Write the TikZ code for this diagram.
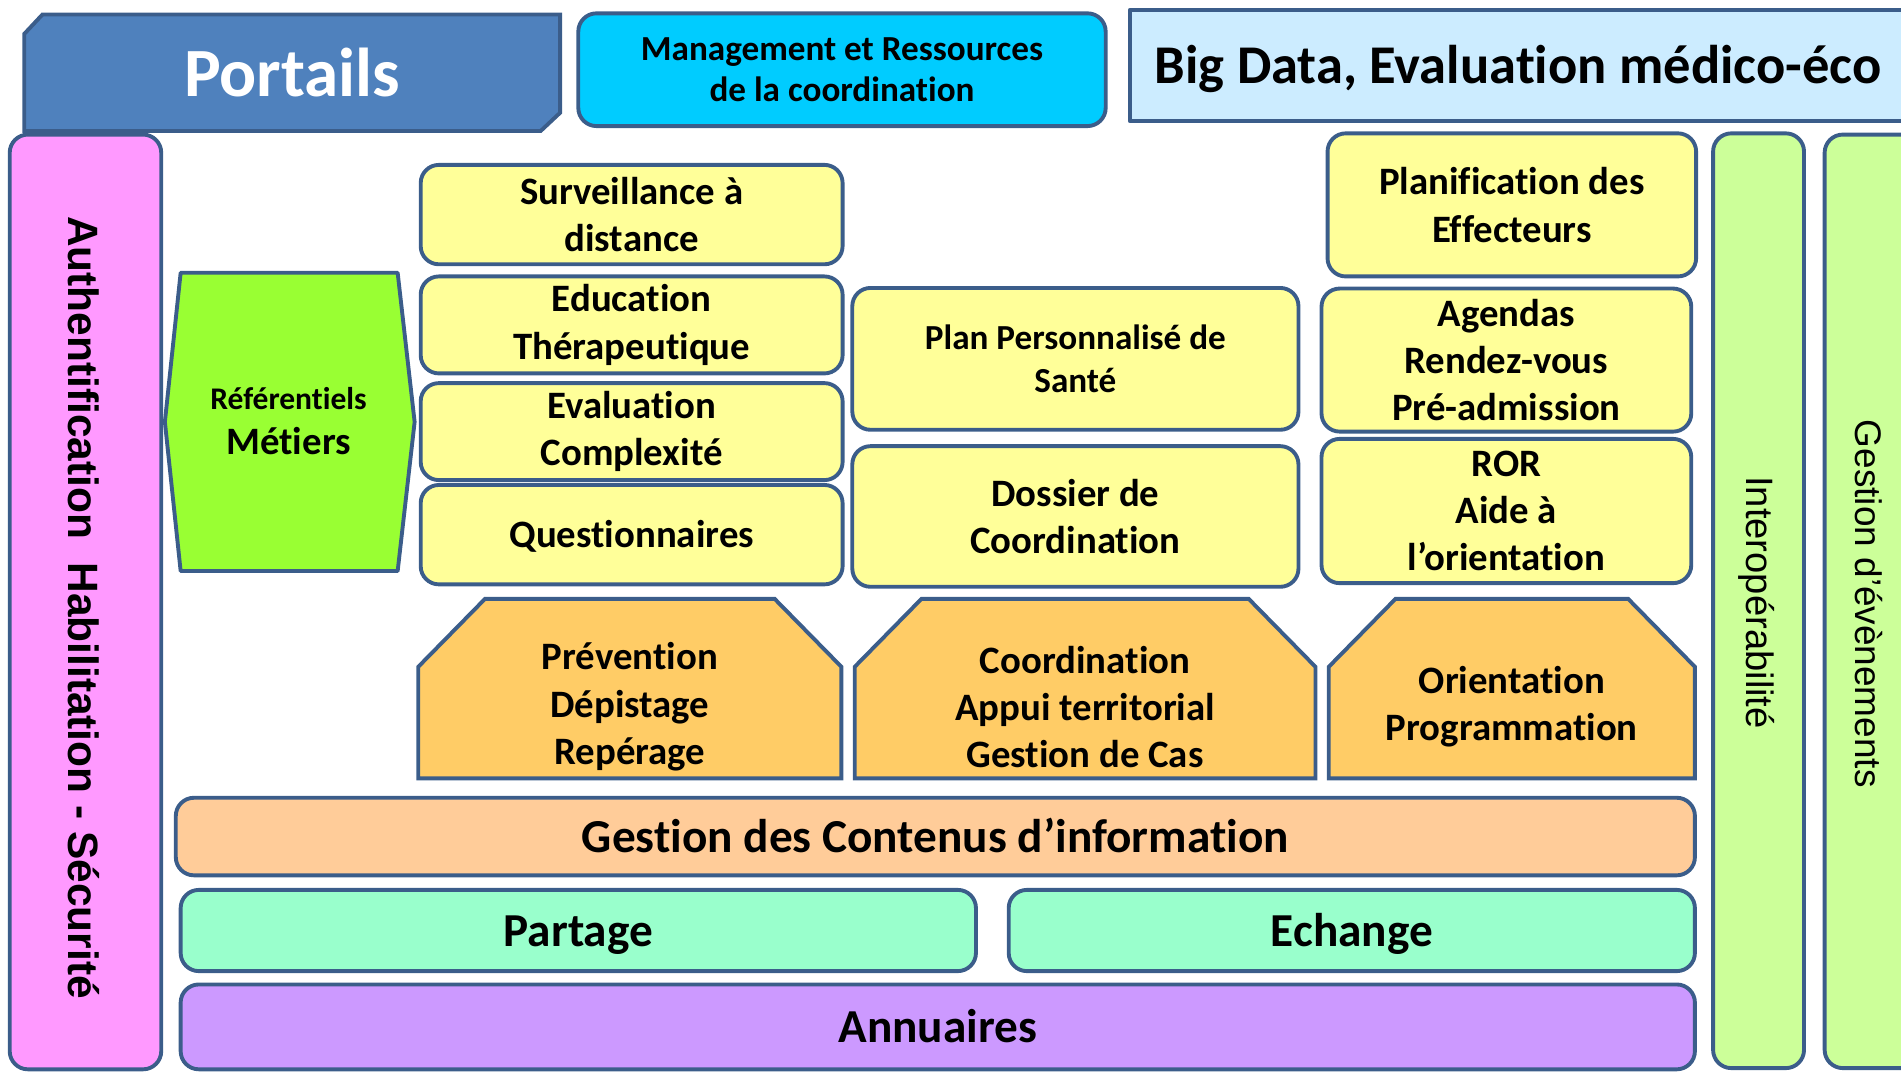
\documentclass[tikz,border=0pt]{standalone}
\usepackage{fontspec}
\setmainfont{Carlito}[Ligatures=NoCommon]
\newfontfamily\arial{Liberation Sans}
\definecolor{bordure}{HTML}{3B5D8A}
\definecolor{portail}{HTML}{4F81BD}
\definecolor{turquoise}{HTML}{00CCFF}
\definecolor{ciel}{HTML}{CCECFF}
\definecolor{rose}{HTML}{FF99FF}
\definecolor{vertvif}{HTML}{99FF33}
\definecolor{jaune}{HTML}{FFFF99}
\definecolor{orangeclair}{HTML}{FFCC66}
\definecolor{peche}{HTML}{FFCC99}
\definecolor{menthe}{HTML}{99FFCC}
\definecolor{lavande}{HTML}{CC99FF}
\definecolor{vertpale}{HTML}{CCFF99}
\tikzset{
  cadre/.style={draw=bordure, line width=3.2pt},
  bloc/.style={cadre, rounded corners=15pt, inner sep=0pt, align=center, font=\fontsize{32}{39}\selectfont\bfseries},
  taille/.style 2 args={minimum width=#1, minimum height=#2},
  gros/.style={font=\fontsize{39}{42}\selectfont\bfseries, text height=30pt, text depth=4pt},
  vertical/.style={rotate=-90, font=\fontsize{31.5}{34}\selectfont\arial}
}
\begin{document}
\begin{tikzpicture}[x=1pt, y=-1pt, line join=round, line cap=round]
  \clip (0,0) rectangle (1568,884);
  % bandeau du haut
  \filldraw[cadre, line join=miter, fill=portail] (35,12) -- (462,12) -- (462,93) -- (446,108) -- (20,108) -- (20,28) -- cycle;
  \node[font=\fontsize{57}{60}\selectfont\bfseries, text=white] (portails) at (241,60) {Portails};
  \node[bloc, fill=turquoise, taille={435}{93}, font=\fontsize{29}{34.5}\selectfont\bfseries] (management) at (694.5,57.5) {Management et Ressources\\de la coordination};
  \node[bloc, sharp corners, fill=ciel, taille={700}{92}] (bigdata) at (1282,54) {};
  \node[anchor=base west, font=\fontsize{45}{50}\selectfont\bfseries] (bigdatatxt) at (949,69) {Big Data, Evaluation médico-éco};
  % colonnes verticales
  \node[bloc, fill=rose, taille={125}{771}] (securite) at (70.5,496.5) {};
  \node[vertical, font=\fontsize{35}{38}\selectfont\arial\bfseries] (securitetxt) at (69.5,501) {Authentification\ \ Habilitation - Sécurité};
  \node[bloc, fill=vertpale, taille={75}{771}] (interop) at (1450.5,495.5) {};
  \node[vertical] (interoptxt) at (1449,497) {Interopérabilité};
  \node[bloc, fill=vertpale, taille={80}{770}] (evenements) at (1545,496) {};
  \node[vertical, font=\fontsize{30.5}{34}\selectfont\arial] (evenementstxt) at (1541.5,498) {Gestion d’évènements};
  % referentiels
  \filldraw[cadre, fill=vertvif] (149,225) -- (328,225) -- (342,348) -- (328,471) -- (149,471) -- (136,348) -- cycle;
  \node[align=center, font=\fontsize{32}{37}\selectfont\bfseries] (referentiels) at (238,347) {{\fontsize{26}{30}\selectfont Référentiels}\\Métiers};
  % services
  \foreach \nom/\yc/\h/\txt in {surveillance/177/82/{Surveillance à\\distance}, education/268/80/{Education\\Thérapeutique}, evaluation/356/80/{Evaluation\\Complexité}}
    \node[bloc, fill=jaune, taille={348}{\h}] (\nom) at (521,\yc) {\txt};
  \node[bloc, fill=jaune, taille={348}{82}, text height=26pt, text depth=4.6pt] (questionnaires) at (521,441) {Questionnaires};
  \node[bloc, fill=jaune, taille={368}{117}, font=\fontsize{29}{35}\selectfont\bfseries] (pps) at (887,296) {Plan Personnalisé de\\Santé};
  \node[bloc, fill=jaune, taille={368}{116}] (dossier) at (887,426) {Dossier de\\Coordination};
  \node[bloc, fill=jaune, taille={304}{118}] (planification) at (1247,169) {Planification des\\Effecteurs};
  \node[bloc, fill=jaune, taille={305}{118}] (agendas) at (1242.5,297) {Agendas\\Rendez-vous\\Pré-admission};
  \node[bloc, fill=jaune, taille={305}{119}] (ror) at (1242.5,421.5) {ROR\\Aide à\\l’orientation};
  % metiers
  \foreach \nom/\xa/\xb/\txt in {prevention/345/694/{Prévention\\Dépistage\\Repérage}, coordination/705/1085/{Coordination\\Appui territorial\\Gestion de Cas}, orientation/1096/1398/{Orientation\\Programmation}}{
    \filldraw[cadre, line join=miter, fill=orangeclair] (\xa,642) -- (\xa,550) -- (\xa+55,494) -- (\xb-55,494) -- (\xb,550) -- (\xb,642) -- cycle;
    \node[align=center, font=\fontsize{32}{39}\selectfont\bfseries] (\nom) at ({(\xa+\xb)/2},583) {\txt};
  }
  % couches basses
  \node[bloc, gros, fill=peche, taille={1253}{64}] (contenus) at (771.5,690) {Gestion des Contenus d’information};
  \node[bloc, gros, fill=menthe, taille={656}{67}] (partage) at (477,767.5) {Partage};
  \node[bloc, gros, fill=menthe, taille={566}{67}] (echange) at (1115,767.5) {Echange};
  \node[bloc, gros, fill=lavande, taille={1249}{70}] (annuaires) at (773.5,847) {Annuaires};
\end{tikzpicture}
\end{document}
